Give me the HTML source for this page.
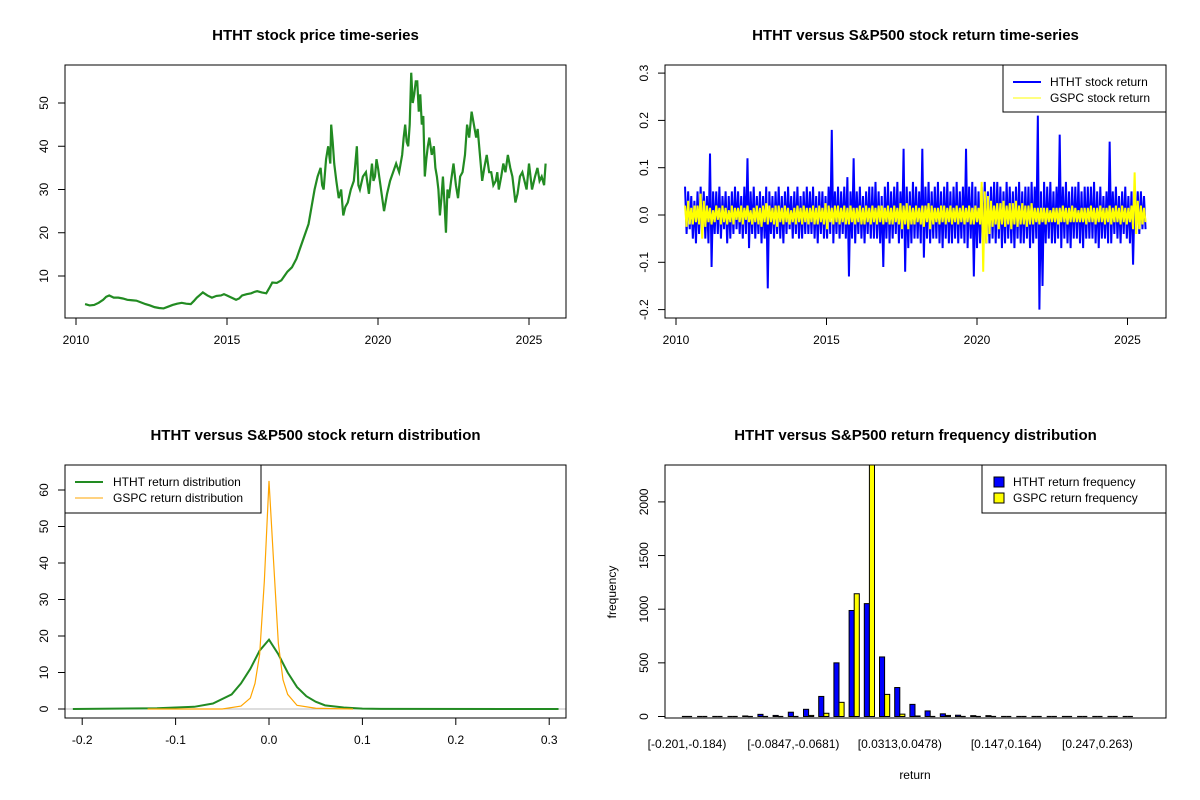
<!DOCTYPE html>
<html><head><meta charset="utf-8"><style>
body{margin:0;background:#fff}
svg{display:block;font-family:"Liberation Sans",Arial,sans-serif}
</style></head><body>
<svg id="s" width="1200" height="800" xmlns="http://www.w3.org/2000/svg"></svg>
<script>
// ---- data ----
const priceYears=[2010.3,2010.45,2010.6,2010.75,2010.9,2011.0,2011.1,2011.25,2011.4,2011.55,2011.7,2011.85,2012.0,2012.15,2012.3,2012.45,2012.6,2012.75,2012.9,2013.05,2013.2,2013.35,2013.5,2013.65,2013.8,2013.9,2014.0,2014.1,2014.2,2014.35,2014.5,2014.65,2014.8,2014.9,2015.0,2015.15,2015.3,2015.4,2015.5,2015.65,2015.8,2015.9,2016.0,2016.15,2016.3,2016.4,2016.5,2016.65,2016.8,2016.9,2017.0,2017.15,2017.3,2017.4,2017.5,2017.6,2017.7,2017.8,2017.9,2018.0,2018.1,2018.15,2018.2,2018.28,2018.35,2018.42,2018.45,2018.5,2018.55,2018.62,2018.7,2018.78,2018.85,2018.92,2019.0,2019.1,2019.2,2019.25,2019.3,2019.35,2019.4,2019.5,2019.6,2019.7,2019.8,2019.85,2019.9,2019.95,2020.0,2020.1,2020.2,2020.3,2020.4,2020.5,2020.6,2020.7,2020.8,2020.85,2020.9,2020.95,2021.0,2021.05,2021.1,2021.15,2021.2,2021.25,2021.3,2021.35,2021.4,2021.45,2021.5,2021.55,2021.6,2021.65,2021.7,2021.78,2021.85,2021.9,2021.95,2022.0,2022.05,2022.1,2022.15,2022.2,2022.25,2022.3,2022.35,2022.42,2022.5,2022.58,2022.65,2022.72,2022.8,2022.88,2022.95,2023.02,2023.1,2023.15,2023.25,2023.3,2023.35,2023.4,2023.45,2023.52,2023.6,2023.68,2023.75,2023.82,2023.9,2023.95,2024.0,2024.08,2024.15,2024.22,2024.3,2024.38,2024.45,2024.5,2024.55,2024.62,2024.7,2024.78,2024.85,2024.92,2025.0,2025.05,2025.1,2025.2,2025.28,2025.35,2025.42,2025.5,2025.55,2025.6];
const priceValues=[3.5,3.2,3.3,3.8,4.5,5.2,5.5,5.0,5.0,4.8,4.5,4.4,4.3,3.9,3.5,3.2,2.8,2.6,2.5,2.9,3.3,3.6,3.8,3.6,3.5,4.2,5,5.6,6.2,5.5,5.0,5.4,5.5,5.8,5.5,5.0,4.5,4.8,5.5,5.8,6.0,6.3,6.5,6.2,6.0,7.2,8.5,8.4,9.0,10,11,12,14,16,18,20,22,26,30,33,35,31,30,37,40,36,45,41,36,32,28,30,24,26,27,30,32,36,40,31,30,33,34,29,36,32,33,37,35,30,25,29,32,34,36,34,38,42,45,41,40,45,57,50,52,55,55,48,52,45,47,33,37,40,42,38,40,35,33,30,24,28,33,27,20,30,28,32,36,31,28,33,34,38,45,42,48,46,42,44,40,36,32,35,38,34,34,31,32,34,30,33,36,34,38,35,33,30,27,29,33,34,32,30,36,33,30,33,35,32,33,31,36];
const hthtReturns=[0.06,-0.04,0.05,-0.03,0.04,-0.05,0.03,-0.06,0.05,-0.04,0.06,-0.03,0.05,-0.05,0.04,-0.06,0.13,-0.11,0.05,-0.04,
0.05,-0.04,0.06,-0.05,0.04,-0.03,0.05,-0.06,0.04,-0.05,0.05,-0.04,0.06,-0.03,0.05,-0.04,0.04,-0.05,0.06,-0.04,
0.12,-0.07,0.05,-0.04,0.06,-0.05,0.04,-0.04,0.05,-0.06,0.04,-0.05,0.06,-0.155,0.05,-0.04,0.04,-0.05,0.05,-0.04,
0.06,-0.05,0.04,-0.06,0.05,-0.04,0.06,-0.03,0.04,-0.05,0.05,-0.04,0.06,-0.05,0.04,-0.05,0.05,-0.04,0.06,-0.04,
0.05,-0.04,0.06,-0.05,0.04,-0.06,0.05,-0.04,0.05,-0.05,0.04,-0.05,0.06,-0.04,0.18,-0.06,0.05,-0.04,0.06,-0.05,
0.05,-0.04,0.06,-0.05,0.08,-0.13,0.05,-0.05,0.12,-0.06,0.05,-0.04,0.06,-0.05,0.04,-0.06,0.05,-0.04,0.06,-0.05,
0.06,-0.05,0.07,-0.05,0.05,-0.06,0.04,-0.11,0.06,-0.05,0.07,-0.06,0.05,-0.05,0.06,-0.04,0.07,-0.06,0.05,-0.05,
0.14,-0.12,0.06,-0.07,0.05,-0.06,0.07,-0.05,0.06,-0.05,0.05,-0.06,0.14,-0.09,0.06,-0.05,0.07,-0.06,0.05,-0.05,
0.06,-0.05,0.07,-0.06,0.05,-0.07,0.06,-0.05,0.07,-0.06,0.05,-0.06,0.06,-0.05,0.07,-0.06,0.05,-0.05,0.06,-0.06,
0.14,-0.07,0.06,-0.05,0.07,-0.13,0.06,-0.07,0.05,-0.06,0.06,-0.05,0.07,-0.06,0.05,-0.06,0.06,-0.05,0.07,-0.06,
0.07,-0.05,0.06,-0.07,0.05,-0.06,0.07,-0.05,0.06,-0.06,0.05,-0.07,0.06,-0.05,0.07,-0.06,0.05,-0.06,0.06,-0.05,
0.06,-0.07,0.07,-0.06,0.06,-0.05,0.21,-0.2,0.05,-0.15,0.07,-0.06,0.06,-0.05,0.07,-0.06,0.05,-0.06,0.06,-0.05,
0.17,-0.07,0.06,-0.05,0.07,-0.06,0.05,-0.07,0.06,-0.05,0.06,-0.05,0.07,-0.06,0.05,-0.07,0.06,-0.05,0.06,-0.05,
0.06,-0.05,0.07,-0.06,0.05,-0.07,0.06,-0.05,0.04,-0.05,0.05,-0.06,0.155,-0.06,0.05,-0.04,0.06,-0.05,0.04,-0.06,
0.05,-0.04,0.06,-0.05,0.04,-0.06,0.05,-0.105,0.04,-0.03,0.05,-0.04,0.05,-0.03,0.04,-0.03];
const gspcReturns=[0.02,-0.025,0.03,-0.02,0.015,-0.02,0.02,-0.015,0.02,-0.02,0.045,-0.05,0.03,-0.025,0.02,-0.015,0.015,-0.02,0.01,-0.015,
0.02,-0.01,0.015,-0.02,0.02,-0.015,0.015,-0.02,0.01,-0.015,0.02,-0.02,0.015,-0.01,0.015,-0.015,0.02,-0.02,0.015,-0.01,
0.02,-0.015,0.01,-0.02,0.015,-0.015,0.02,-0.02,0.015,-0.025,0.02,-0.015,0.025,-0.02,0.02,-0.015,0.015,-0.02,0.02,-0.025,
0.02,-0.015,0.015,-0.02,0.02,-0.015,0.015,-0.02,0.01,-0.015,0.015,-0.02,0.02,-0.015,0.015,-0.02,0.02,-0.015,0.015,-0.02,
0.015,-0.015,0.02,-0.02,0.015,-0.02,0.02,-0.015,0.015,-0.02,0.025,-0.03,0.02,-0.015,0.015,-0.02,0.02,-0.015,0.02,-0.02,
0.015,-0.015,0.02,-0.02,0.015,-0.02,0.02,-0.015,0.015,-0.02,0.015,-0.015,0.02,-0.02,0.015,-0.02,0.02,-0.015,0.015,-0.02,
0.02,-0.015,0.015,-0.02,0.02,-0.015,0.02,-0.02,0.015,-0.015,0.02,-0.02,0.015,-0.02,0.02,-0.015,0.015,-0.02,0.025,-0.03,
0.02,-0.02,0.025,-0.03,0.02,-0.02,0.015,-0.02,0.02,-0.015,0.015,-0.02,0.02,-0.025,0.02,-0.015,0.025,-0.03,0.02,-0.02,
0.015,-0.015,0.015,-0.02,0.02,-0.015,0.02,-0.02,0.015,-0.015,0.02,-0.02,0.015,-0.015,0.02,-0.02,0.015,-0.015,0.02,-0.02,
0.015,-0.015,0.02,-0.02,0.015,-0.02,0.02,-0.015,0.015,-0.02,0.07,-0.12,0.05,-0.06,0.04,-0.04,0.03,-0.025,0.02,-0.02,
0.025,-0.03,0.025,-0.02,0.03,-0.025,0.02,-0.02,0.025,-0.03,0.025,-0.02,0.03,-0.025,0.02,-0.02,0.025,-0.02,0.02,-0.025,
0.02,-0.02,0.025,-0.02,0.015,-0.015,0.015,-0.02,0.015,-0.015,0.015,-0.02,0.015,-0.015,0.01,-0.015,0.015,-0.015,0.015,-0.02,
0.015,-0.015,0.02,-0.015,0.015,-0.02,0.015,-0.015,0.02,-0.015,0.015,-0.015,0.01,-0.015,0.015,-0.015,0.015,-0.02,0.015,-0.015,
0.02,-0.015,0.015,-0.02,0.015,-0.015,0.02,-0.015,0.015,-0.02,0.015,-0.015,0.02,-0.02,0.015,-0.015,0.02,-0.015,0.015,-0.02,
0.02,-0.015,0.015,-0.02,0.015,-0.015,0.02,-0.03,0.09,-0.04,0.03,-0.03,0.02,-0.02,0.015,-0.015];
const densX=[-0.21,-0.12,-0.08,-0.06,-0.04,-0.03,-0.02,-0.01,0,0.01,0.02,0.03,0.04,0.05,0.06,0.08,0.1,0.12,0.31];
const hthtDensity=[0,0.2,0.6,1.5,4,7,11,16,19,15,10,6,3.5,2,1,0.4,0.1,0.05,0];
const gspcDensX=[-0.13,-0.05,-0.03,-0.02,-0.015,-0.01,-0.005,0,0.005,0.01,0.015,0.02,0.03,0.05,0.09];
const gspcDensity=[0,0,0.8,3,7,15,35,62.5,40,18,8,4,1,0.2,0];
const binLabels=["[-0.201,-0.184)","[-0.0847,-0.0681)","[0.0313,0.0478)","[0.147,0.164)","[0.247,0.263)"];
const binLabelIdx=[0,7,14,21,27];
const hthtFreq=[0,0,0,0,5,20,10,40,67,187,500,988,1052,555,270,113,52,25,12,8,8,0,0,0,0,0,0,0,0,0];
const gspcFreq=[0,0,0,0,0,0,0,3,10,30,132,1144,2700,206,22,5,1,10,0,0,0,0,0,0,0,0,0,0,0,0];

const S=document.getElementById('s');const NS='http://www.w3.org/2000/svg';
function el(t,a,p){const e=document.createElementNS(NS,t);for(const k in a)e.setAttribute(k,a[k]);(p||S).appendChild(e);return e;}
function txt(x,y,s,a,p){const e=el('text',Object.assign({x:x,y:y,'text-anchor':'middle','font-size':12,fill:'#000'},a||{}),p);e.textContent=s;return e;}
function panel(name,x0,y0,x1,y1,title){
 const g=el('g',{});
 const t=txt((x0+x1)/2,y0-25,title,{'font-size':15,'font-weight':'bold'},g);
 
 const c=el('defs',{},g);const cp=el('clipPath',{id:'c'+name},c);el('rect',{x:x0,y:y0,width:x1-x0,height:y1-y0},cp);
 return g;}
function box(g,x0,y0,x1,y1){const r=el('rect',{x:x0,y:y0,width:x1-x0,height:y1-y0,fill:'none',stroke:'#000','stroke-width':1},g);}
function xaxis(g,ticks,labels,fx,y1){const a=el('g',{},g);
 el('line',{x1:fx(ticks[0]),x2:fx(ticks[ticks.length-1]),y1:y1,y2:y1,stroke:'#000'},a);
 ticks.forEach((t,i)=>{el('line',{x1:fx(t),x2:fx(t),y1:y1,y2:y1+7,stroke:'#000'},a);txt(fx(t),y1+26,labels[i],{},a);});}
function yaxis(g,ticks,labels,fy,x0){const a=el('g',{},g);
 el('line',{x1:x0,x2:x0,y1:fy(ticks[0]),y2:fy(ticks[ticks.length-1]),stroke:'#000'},a);
 ticks.forEach((t,i)=>{el('line',{x1:x0,x2:x0-7,y1:fy(t),y2:fy(t),stroke:'#000'},a);const y=fy(t);txt(x0-17,y,labels[i],{transform:`rotate(-90 ${x0-17} ${y})`},a);});}
function poly(g,xs,ys,fx,fy,col,w,clip,name){const p=el('polyline',{points:xs.map((x,i)=>fx(x)+','+fy(ys[i])).join(' '),fill:'none',stroke:col,'stroke-width':w,'stroke-linejoin':'miter','clip-path':'url(#'+clip+')'},g);}

// Panel 1
{const x0=65,y0=65,x1=566,y1=318;const g=panel('price-panel',x0,y0,x1,y1,'HTHT stock price time-series');
 const fx=v=>76+(v-2010)*30.2, fy=v=>319.25-v*4.325;
 poly(g,priceYears,priceValues,fx,fy,'#228B22',2.2,'cprice-panel','price-line');
 box(g,x0,y0,x1,y1);xaxis(g,[2010,2015,2020,2025],['2010','2015','2020','2025'],fx,y1);
 yaxis(g,[10,20,30,40,50],['10','20','30','40','50'],fy,x0);}
// Panel 2
{const x0=665,y0=65,x1=1166,y1=318;const g=panel('returns-panel',x0,y0,x1,y1,'HTHT versus S&P500 stock return time-series');
 const fx=v=>676+(v-2010)*30.1, fy=v=>215-v*473;
 const yrs=hthtReturns.map((_,i)=>2010.3+i*15.3/(hthtReturns.length-1));
 const yrs2=gspcReturns.map((_,i)=>2010.3+i*15.3/(gspcReturns.length-1));
 poly(g,yrs,hthtReturns,fx,fy,'#0000ff',2,'creturns-panel','htht-return-line');
 poly(g,yrs2,gspcReturns,fx,fy,'#ffff00',2,'creturns-panel','gspc-return-line');
 box(g,x0,y0,x1,y1);xaxis(g,[2010,2015,2020,2025],['2010','2015','2020','2025'],fx,y1);
 yaxis(g,[-0.2,-0.1,0,0.1,0.2,0.3],['-0.2','-0.1','0.0','0.1','0.2','0.3'],fy,x0);
 const l=el('g',{},g);
 el('rect',{x:1003,y:65,width:163,height:47,fill:'#fff',stroke:'#000'},l);
 el('line',{x1:1013,x2:1041,y1:82,y2:82,stroke:'#0000ff','stroke-width':2},l);txt(1050,86,'HTHT stock return',{'text-anchor':'start'},l);
 el('line',{x1:1013,x2:1041,y1:98,y2:98,stroke:'#ffff00','stroke-width':1},l);txt(1050,102,'GSPC stock return',{'text-anchor':'start'},l);}
// Panel 3
{const x0=65,y0=465,x1=566,y1=718;const g=panel('density-panel',x0,y0,x1,y1,'HTHT versus S&P500 stock return distribution');
 const fx=v=>269+v*934, fy=v=>709-v*3.65;
 el('line',{x1:x0,x2:x1,y1:fy(0),y2:fy(0),stroke:'#bbb'},g);
 poly(g,densX,hthtDensity,fx,fy,'#228B22',2,'cdensity-panel','htht-density-line');
 poly(g,gspcDensX,gspcDensity,fx,fy,'#ffa500',1.2,'cdensity-panel','gspc-density-line');
 box(g,x0,y0,x1,y1);xaxis(g,[-0.2,-0.1,0,0.1,0.2,0.3],['-0.2','-0.1','0.0','0.1','0.2','0.3'],fx,y1);
 yaxis(g,[0,10,20,30,40,50,60],['0','10','20','30','40','50','60'],fy,x0);
 const l=el('g',{},g);
 el('rect',{x:65,y:465,width:196,height:48,fill:'#fff',stroke:'#000'},l);
 el('line',{x1:75,x2:103,y1:482,y2:482,stroke:'#228B22','stroke-width':2},l);txt(113,486,'HTHT return distribution',{'text-anchor':'start'},l);
 el('line',{x1:75,x2:103,y1:498,y2:498,stroke:'#ffa500','stroke-width':1},l);txt(113,502,'GSPC return distribution',{'text-anchor':'start'},l);}
// Panel 4
{const x0=665,y0=465,x1=1166,y1=718;const g=panel('frequency-panel',x0,y0,x1,y1,'HTHT versus S&P500 return frequency distribution');
 const fx=i=>687+i*15.2, fy=v=>716.5-v*0.1073, bw=5.1;
 hthtFreq.forEach((v,i)=>{const h=fy(0)-fy(v);
  const r=h>0.5?el('rect',{x:fx(i)-bw,y:fy(v),width:bw,height:h,fill:'#0000ff',stroke:'#000','stroke-width':1,'clip-path':'url(#cfrequency-panel)'},g):el('line',{x1:fx(i)-bw,x2:fx(i),y1:fy(0),y2:fy(0),stroke:'#000','stroke-width':1.2},g);
  });
 gspcFreq.forEach((v,i)=>{const h=fy(0)-fy(v);
  const r=h>0.5?el('rect',{x:fx(i),y:fy(v),width:bw,height:h,fill:'#ffff00',stroke:'#000','stroke-width':1,'clip-path':'url(#cfrequency-panel)'},g):el('line',{x1:fx(i),x2:fx(i)+bw,y1:fy(0),y2:fy(0),stroke:'#000','stroke-width':1.2},g);
  });
 box(g,x0,y0,x1,y1);
 binLabelIdx.forEach((k,i)=>txt(fx(k),748,binLabels[i],{},g));
 yaxis(g,[0,500,1000,1500,2000],['0','500','1000','1500','2000'],fy,x0);
 const yl=txt(616,592,'frequency',{transform:'rotate(-90 616 592)'},g);
 const xl=txt(915,779,'return',{},g);
 const l=el('g',{},g);
 el('rect',{x:982,y:465,width:184,height:48,fill:'#fff',stroke:'#000'},l);
 el('rect',{x:994,y:477,width:10,height:10,fill:'#0000ff',stroke:'#000'},l);txt(1013,486,'HTHT return frequency',{'text-anchor':'start'},l);
 el('rect',{x:994,y:493,width:10,height:10,fill:'#ffff00',stroke:'#000'},l);txt(1013,502,'GSPC return frequency',{'text-anchor':'start'},l);}
</script>
</body></html>
